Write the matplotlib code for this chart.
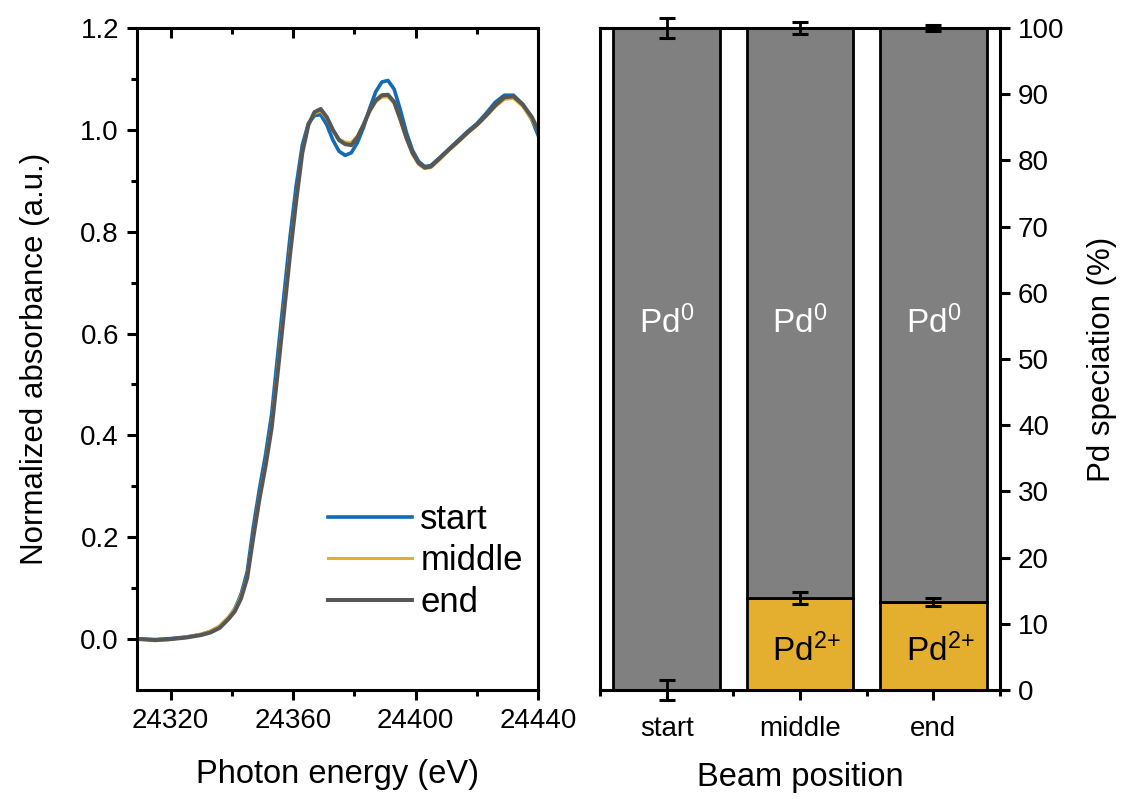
import matplotlib
matplotlib.use("Agg")
import matplotlib.pyplot as plt

plt.rcParams['font.family'] = ['Liberation Sans', 'DejaVu Sans']
plt.rcParams['mathtext.default'] = 'regular'

# XANES spectra (Pd K-edge)
energy = [24310, 24315, 24320, 24325, 24330, 24333, 24336, 24339, 24341, 24343,
          24345, 24347, 24349, 24351, 24353, 24355, 24357, 24359, 24361, 24363,
          24365, 24367, 24369, 24371, 24373, 24375, 24377, 24379, 24381, 24383,
          24385, 24387, 24389, 24391, 24393, 24395, 24397, 24399, 24401, 24403,
          24405, 24408, 24411, 24414, 24417, 24420, 24423, 24426, 24429, 24432,
          24435, 24438, 24440]
abs_start = [0.000, -0.001, 0.001, 0.004, 0.009, 0.015, 0.025, 0.043, 0.060, 0.088,
             0.132, 0.220, 0.295, 0.362, 0.442, 0.560, 0.675, 0.790, 0.890, 0.970,
             1.013, 1.028, 1.030, 1.010, 0.980, 0.958, 0.950, 0.955, 0.975, 1.005,
             1.042, 1.075, 1.094, 1.097, 1.080, 1.040, 0.995, 0.960, 0.938, 0.928,
             0.930, 0.946, 0.963, 0.980, 0.997, 1.012, 1.032, 1.054, 1.068, 1.068,
             1.050, 1.020, 0.990]
abs_middle = [0.000, -0.003, -0.001, 0.004, 0.010, 0.016, 0.026, 0.044, 0.060, 0.085,
              0.124, 0.205, 0.280, 0.345, 0.422, 0.535, 0.650, 0.765, 0.866, 0.958,
              1.010, 1.032, 1.037, 1.022, 1.000, 0.982, 0.976, 0.975, 0.988, 1.010,
              1.035, 1.055, 1.064, 1.065, 1.052, 1.018, 0.982, 0.952, 0.932, 0.924,
              0.926, 0.942, 0.960, 0.976, 0.993, 1.008, 1.026, 1.045, 1.060, 1.062,
              1.046, 1.020, 0.998]
abs_end = [0.000, -0.002, 0.000, 0.003, 0.008, 0.013, 0.022, 0.040, 0.055, 0.080,
           0.120, 0.200, 0.275, 0.340, 0.415, 0.525, 0.640, 0.755, 0.860, 0.955,
           1.010, 1.035, 1.041, 1.025, 1.000, 0.980, 0.972, 0.970, 0.985, 1.010,
           1.038, 1.058, 1.068, 1.069, 1.055, 1.022, 0.985, 0.955, 0.935, 0.926,
           0.928, 0.945, 0.962, 0.978, 0.995, 1.010, 1.028, 1.048, 1.064, 1.066,
           1.050, 1.025, 1.000]

# speciation from linear combination fitting (%)
positions = ['start', 'middle', 'end']
pd2 = [0.0, 13.9, 13.3]
pd2_err = [1.5, 0.9, 0.6]
pd0 = [100 - v for v in pd2]
total_err = [1.5, 0.9, 0.4]

c_blue = '#126bb4'
c_yellow = '#e6ae2e'
c_gray = '#575757'
c_bar_gray = '#808080'
c_bar_yellow = '#e4af2f'

fig = plt.figure(figsize=(11.22, 7.99), dpi=100)
ax1 = fig.add_axes([0.1221, 0.1364, 0.3574, 0.8285])
ax2 = fig.add_axes([0.5348, 0.1364, 0.3565, 0.8285])

# left: spectra
ax1.plot(energy, abs_start, color=c_blue, lw=2.6, label='start')
ax1.plot(energy, abs_middle, color=c_yellow, lw=2.2, label='middle')
ax1.plot(energy, abs_end, color=c_gray, lw=2.9, label='end')
ax1.set_xlim(24309, 24440)
ax1.set_ylim(-0.1, 1.2)
ax1.set_xticks([24320, 24360, 24400, 24440])
ax1.set_xticks([24340, 24380, 24420], minor=True)
ax1.set_yticks([0.0, 0.2, 0.4, 0.6, 0.8, 1.0, 1.2])
ax1.set_yticks([0.1, 0.3, 0.5, 0.7, 0.9, 1.1], minor=True)
ax1.tick_params(axis='both', which='major', direction='out', length=7, width=2.2,
                labelsize=20, pad=6)
ax1.tick_params(axis='both', which='minor', direction='out', length=4, width=2.2)
ax1.tick_params(axis='x', top=True, which='both')
for t in ax1.xaxis.get_major_ticks() + ax1.xaxis.get_minor_ticks():
    t.tick2line.set_marker(3)  # top ticks point inward
ax1.set_xlabel('Photon energy (eV)', fontsize=23.5, labelpad=18)
ax1.set_ylabel('Normalized absorbance (a.u.)', fontsize=22.5, labelpad=22)
ax1.legend(loc='upper left', bbox_to_anchor=(0.477, 0.283), frameon=False,
           fontsize=25, handlelength=2.4, handletextpad=0.25, labelspacing=0.25,
           borderpad=0, borderaxespad=0)

# right: stacked bars
x = range(len(positions))
ax2.bar(x, pd2, width=0.8, color=c_bar_yellow, edgecolor='black', linewidth=2)
ax2.bar(x, pd0, width=0.8, bottom=pd2, color=c_bar_gray, edgecolor='black', linewidth=2)
ax2.errorbar(x, [a + b for a, b in zip(pd2, pd0)], yerr=total_err, fmt='none',
             ecolor='black', elinewidth=2, capsize=6, capthick=2.2, clip_on=False, zorder=5)
ax2.errorbar(x, pd2, yerr=pd2_err, fmt='none', ecolor='black', elinewidth=2,
             capsize=6, capthick=2.2, clip_on=False, zorder=5)
for i in x:
    ax2.text(i, 55.4, 'Pd$^0$', color='white', fontsize=24, ha='center', va='center')
    if pd2[i] > 0:
        ax2.text(i + 0.05, 5.9, 'Pd$^{2{+}}$', color='black', fontsize=24,
                 ha='center', va='center')
ax2.set_xlim(-0.5, 2.5)
ax2.set_ylim(0, 100)
ax2.set_xticks(list(x))
ax2.set_xticklabels(positions)
ax2.set_xticks([-0.5, 0.5, 1.5, 2.5], minor=True)
ax2.yaxis.tick_right()
ax2.yaxis.set_label_position('right')
ax2.set_yticks(range(0, 101, 10))
ax2.tick_params(axis='both', which='major', direction='out', length=7, width=2.2,
                labelsize=20, pad=6)
ax2.tick_params(axis='x', which='major', pad=12)
ax2.tick_params(axis='x', which='minor', direction='out', length=4, width=2.2)
ax2.set_xlabel('Beam position', fontsize=23.5, labelpad=14)
ax2.set_ylabel('Pd speciation (%)', fontsize=22.5, labelpad=16)

for ax in (ax1, ax2):
    for s in ax.spines.values():
        s.set_linewidth(2.2)

fig.savefig('out.png', dpi=100)
